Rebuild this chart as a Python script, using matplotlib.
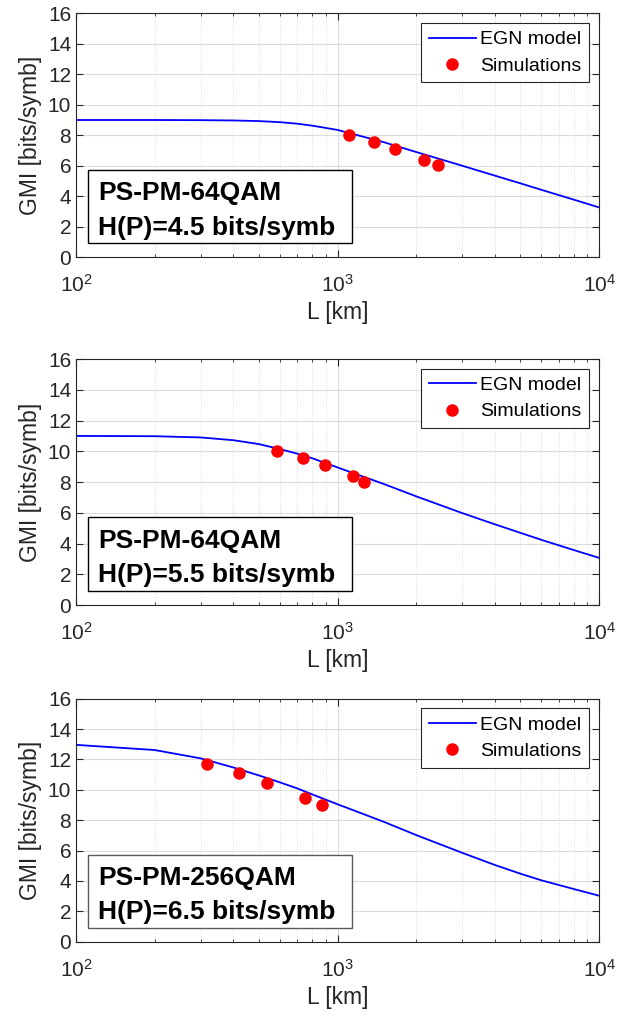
import numpy as np
import matplotlib.pyplot as plt
from matplotlib.patches import Rectangle
from matplotlib.ticker import LogLocator, NullFormatter

plt.rcParams['font.family'] = ['Liberation Sans', 'DejaVu Sans']
plt.rcParams['mathtext.fontset'] = 'custom'
plt.rcParams['mathtext.rm'] = 'Liberation Sans'

# EGN model curves
L_egn = [100, 200, 300, 400, 500, 600, 700, 800, 1000, 1500, 2000, 3000, 4000, 5000, 6000, 8000, 10000]
gmi_egn_1 = [9.0, 9.0, 8.99, 8.97, 8.93, 8.86, 8.76, 8.63, 8.35, 7.55, 6.9, 6.0, 5.35, 4.85, 4.43, 3.78, 3.27]
gmi_egn_2 = [11.0, 10.98, 10.9, 10.72, 10.47, 10.15, 9.85, 9.55, 8.95, 7.88, 7.07, 5.98, 5.25, 4.7, 4.25, 3.58, 3.07]
gmi_egn_3 = [12.96, 12.62, 12.07, 11.47, 10.95, 10.5, 10.1, 9.7, 9.05, 7.9, 7.02, 5.85, 5.05, 4.48, 4.05, 3.47, 3.03]

# simulation points
L_sim_1 = [1102, 1373, 1662, 2138, 2427]
gmi_sim_1 = [8.04, 7.57, 7.08, 6.37, 6.02]
L_sim_2 = [589, 735, 894, 1141, 1265]
gmi_sim_2 = [10.04, 9.59, 9.09, 8.37, 8.0]
L_sim_3 = [316, 419, 537, 748, 873]
gmi_sim_3 = [11.71, 11.08, 10.42, 9.47, 8.99]

labels = [("PS-PM-64QAM", "H(P)=4.5 bits/symb"),
          ("PS-PM-64QAM", "H(P)=5.5 bits/symb"),
          ("PS-PM-256QAM", "H(P)=6.5 bits/symb")]

curves = [(gmi_egn_1, L_sim_1, gmi_sim_1),
          (gmi_egn_2, L_sim_2, gmi_sim_2),
          (gmi_egn_3, L_sim_3, gmi_sim_3)]

positions = [[0.121, 0.747, 0.833, 0.240],
             [0.121, 0.405, 0.833, 0.242],
             [0.121, 0.074, 0.833, 0.239]]
box_edges = ['black', 'black', '#5a5a5a']

fig = plt.figure(figsize=(6.28, 10.17), dpi=100)

for pos, (egn, ls, gs), (t1, t2), bec in zip(positions, curves, labels, box_edges):
    ax = fig.add_axes(pos)
    ax.plot(L_egn, egn, color='blue', lw=1.3, label='EGN model')
    ax.plot(ls, gs, 'o', color='red', ms=8, label='Simulations')
    ax.set_xscale('log')
    ax.set_xlim(100, 10000)
    ax.set_ylim(0, 16)
    ax.set_yticks(range(0, 17, 2))
    ax.xaxis.set_minor_locator(LogLocator(base=10, subs=np.arange(2, 10)))
    ax.xaxis.set_minor_formatter(NullFormatter())
    ax.grid(True, which='major', color='#dcdcdc', lw=0.8)
    ax.grid(True, which='minor', axis='x', color='#dcdcdc', lw=0.7, ls=':')
    ax.set_axisbelow(True)
    ax.tick_params(which='both', direction='in', top=True, right=True, labelsize=15,
                   colors='#262626')
    ax.tick_params(axis='x', which='major', pad=12)
    ax.tick_params(which='major', length=5)
    ax.tick_params(which='minor', length=2.5)
    for s in ax.spines.values():
        s.set_color('#262626')
        s.set_linewidth(0.8)
    ax.set_xlabel('L [km]', fontsize=16.5, labelpad=4, color='#262626')
    ax.set_ylabel('GMI [bits/symb]', fontsize=16.5, labelpad=4, color='#262626')
    leg = ax.legend(loc='upper right', fontsize=14, fancybox=False, edgecolor='#262626',
                    framealpha=1, borderaxespad=0.5, handlelength=2.4, handletextpad=0.25,
                    labelspacing=0.45, borderpad=0.4)
    leg.get_frame().set_linewidth(0.8)
    ax.add_patch(Rectangle((0.023, 0.057), 0.504, 0.30, transform=ax.transAxes,
                           fc='white', ec=bec, lw=1.0, zorder=5))
    ax.text(0.042, 0.262, t1, transform=ax.transAxes, fontsize=19, fontweight='bold',
            va='center', ha='left', zorder=6)
    ax.text(0.042, 0.122, t2, transform=ax.transAxes, fontsize=19, fontweight='bold',
            va='center', ha='left', zorder=6)

fig.savefig('out.png', dpi=100)
